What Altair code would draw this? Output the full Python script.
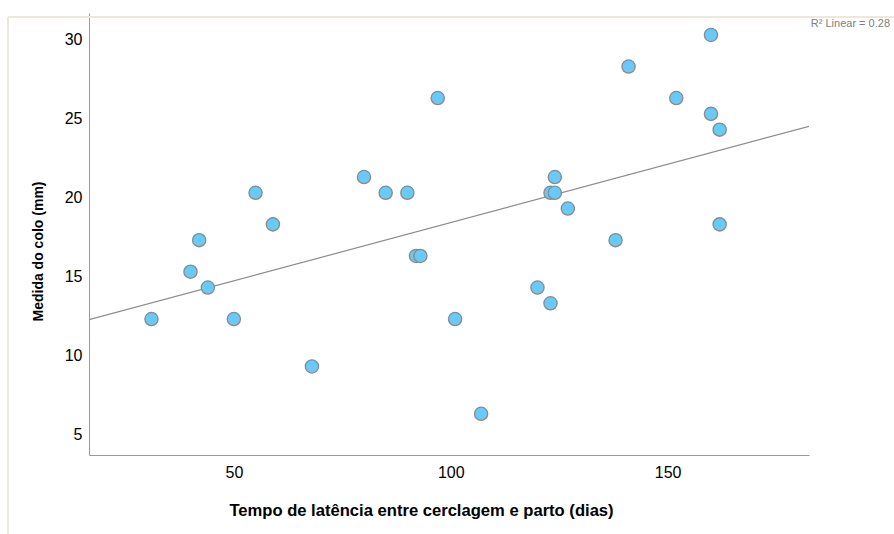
import altair as alt
import pandas as pd

# Tempo de latência entre cerclagem e parto (dias)
latencia = [31, 40, 42, 44, 50, 55, 59, 68, 80, 85, 90, 92, 93, 97, 101, 107,
            120, 123, 124, 123, 124, 127, 138, 141, 152, 160, 160, 162, 162]
# Medida do colo (mm)
colo = [12, 15, 17, 14, 12, 20, 18, 9, 21, 20, 20, 16, 16, 26, 12, 6,
        14, 20, 20, 13, 21, 19, 17, 28, 26, 30, 25, 24, 18]

x_ticks = [50, 100, 150]
y_ticks = [5, 10, 15, 20, 25, 30]
x_domain = [16.6, 182.6]
y_domain = [3.39, 31.39]
r2_label = ["R² Linear = 0.28"]

df = pd.DataFrame({"x": latencia, "y": colo})
df_label = pd.DataFrame({"t": r2_label})

FONT = "Liberation Sans"

x_enc = alt.X(
    "x:Q",
    scale=alt.Scale(domain=x_domain, nice=False, zero=False),
    axis=alt.Axis(
        title="Tempo de latência entre cerclagem e parto (dias)",
        values=x_ticks, grid=False, ticks=False,
        domainColor="#9a9a9a", domainWidth=1,
        labelFont=FONT, labelFontSize=16, labelColor="#000000", labelPadding=9,
        titleFont=FONT, titleFontSize=16.6, titleFontWeight="bold", titleColor="#000000",
        titleX=332, titleY=55, titleBaseline="middle", titleAlign="center",
    ),
)
y_enc = alt.Y(
    "y:Q",
    scale=alt.Scale(domain=y_domain, nice=False, zero=False),
    axis=alt.Axis(
        title="Medida do colo (mm)",
        values=y_ticks, grid=False, ticks=False,
        domainColor="#9a9a9a", domainWidth=1,
        labelFont=FONT, labelFontSize=16, labelColor="#000000", labelPadding=7,
        labelOffset=4.5,
        titleFont=FONT, titleFontSize=14, titleFontWeight="bold", titleColor="#000000",
        titleX=-51, titleY=238, titleAngle=-90, titleBaseline="middle", titleAlign="center",
    ),
)

base = alt.Chart(df)

line = base.transform_regression("x", "y", extent=x_domain).mark_line(
    color="#8c8c8c", strokeWidth=1.2, clip=True
).encode(x=x_enc, y=y_enc)

points = base.mark_point(
    filled=True, shape="circle", size=175, fill="#66cbfb", stroke="#8a8a8a",
    strokeWidth=1.3, opacity=1, fillOpacity=1
).encode(x=x_enc, y=y_enc)

# light page frame of the source document (left and top edges)
frame_v = alt.Chart(df_label).mark_rule(color="#ece8dc", strokeWidth=2, clip=False).encode(
    x=alt.value(-81), y=alt.value(4), y2=alt.value(521)
)
frame_h = alt.Chart(df_label).mark_rule(color="#ece8dc", strokeWidth=2, clip=False).encode(
    x=alt.value(-81), x2=alt.value(805), y=alt.value(4)
)

# R² annotation in the top-right corner
r2_text = alt.Chart(df_label).mark_text(
    align="right", baseline="middle", font=FONT, fontSize=11, color="#808080", clip=False
).encode(x=alt.value(801), y=alt.value(11), text="t:N")

chart = alt.layer(frame_v, frame_h, line, points, r2_text).properties(
    width=720,
    height=442,
    background="white",
    autosize=alt.AutoSizeParams(type="none"),
    padding={"left": 89, "top": 13, "right": 85, "bottom": 79},
).configure_view(strokeWidth=0, stroke="transparent")

chart.save("out.html", embed_options={"renderer": "svg", "actions": False})
